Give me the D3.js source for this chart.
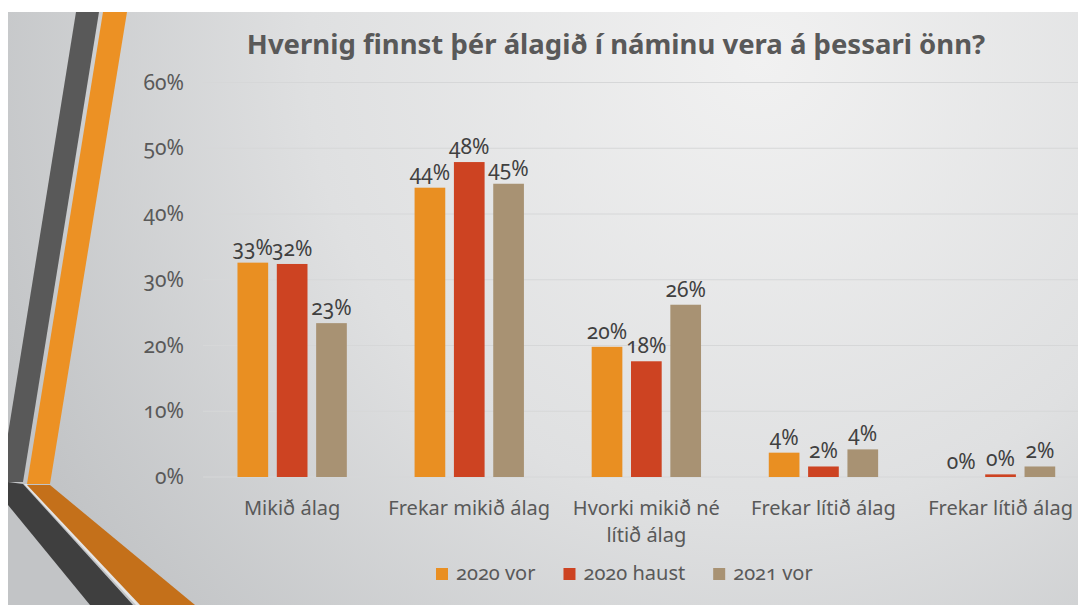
<!DOCTYPE html>
<html>
<head>
<meta charset="utf-8">
<script src="https://cdn.jsdelivr.net/npm/d3@7"></script>
<style>
  body { margin: 0; background: #fff; }
  svg text { font-family: "Noto Sans", sans-serif; }
  .num { font-variant-numeric: oldstyle-nums; }
</style>
</head>
<body>
<div id="chart"></div>
<script>
const categories = ["Mikið álag", "Frekar mikið álag", "Hvorki mikið né lítið álag", "Frekar lítið álag", "Frekar lítið álag "];
const categoryLines = [["Mikið álag"], ["Frekar mikið álag"], ["Hvorki mikið né", "lítið álag"], ["Frekar lítið álag"], ["Frekar lítið álag"]];
const series = ["2020 vor", "2020 haust", "2021 vor"];
const vor2020 = [32.6, 44.0, 19.8, 3.7, 0];
const haust2020 = [32.4, 47.9, 17.6, 1.6, 0.4];
const vor2021 = [23.4, 44.6, 26.2, 4.2, 1.6];
const yTicks = [0, 10, 20, 30, 40, 50, 60];
const colors = ["#e98f22", "#cd4322", "#a89273"];

const width = 1078, height = 605;
const values = [vor2020, haust2020, vor2021];

const svg = d3.select("#chart").append("svg").attr("width", width).attr("height", height);

// slide background
const defs = svg.append("defs");
const grad = defs.append("radialGradient").attr("id", "bg")
  .attr("gradientUnits", "userSpaceOnUse")
  .attr("cx", 760).attr("cy", 60).attr("r", 820);
grad.append("stop").attr("offset", "0%").attr("stop-color", "#f1f1f1");
grad.append("stop").attr("offset", "55%").attr("stop-color", "#dfe0e1");
grad.append("stop").attr("offset", "100%").attr("stop-color", "#c2c4c6");

svg.append("rect").attr("width", width).attr("height", height).attr("fill", "#fff");
svg.append("rect").attr("x", 8).attr("y", 12).attr("width", width - 8).attr("height", height - 12).attr("fill", "url(#bg)");

// left decoration
const deco = svg.append("g");
const poly = (pts, fill) => deco.append("polygon").attr("points", pts.map(p => p.join(",")).join(" ")).attr("fill", fill);
poly([[76, 12], [99, 12], [23, 482], [8, 482], [8, 434]], "#595959");
poly([[103, 12], [127, 12], [50, 484], [27, 484]], "#ec9124");
poly([[8, 482], [23, 484], [133, 605], [90, 605], [8, 505]], "#3f3f3f");
poly([[24, 484], [27, 484], [141, 605], [136, 605]], "#e6e6e6");
poly([[27, 485], [50, 485], [195, 605], [140, 605]], "#c4701a");

// scales
const y = d3.scaleLinear().domain([0, 60]).range([477, 82.5]);
const x0 = d3.scaleBand().domain(categories).range([203.6, 1089.1]);
const x1 = d3.scaleBand().domain(series).range([-59, 59]).paddingInner(0.22).paddingOuter(0.11);

// gridlines
svg.append("g").selectAll("line").data(yTicks).enter().append("line")
  .attr("x1", 203).attr("x2", width)
  .attr("y1", d => y(d)).attr("y2", d => y(d))
  .attr("stroke", "#d6d7d8").attr("stroke-width", 1);

// y axis
const yAxis = svg.append("g").attr("transform", "translate(184,0)")
  .call(d3.axisLeft(y).tickValues(yTicks).tickSize(0).tickPadding(0).tickFormat(d => d + "%"));
yAxis.select(".domain").remove();
yAxis.selectAll("text").attr("class", "num").attr("fill", "#595959").style("font-size", "21px");

// bars
const groups = svg.append("g").selectAll("g").data(categories).enter().append("g")
  .attr("transform", d => `translate(${x0(d) + x0.bandwidth() / 2},0)`);

groups.each(function (cat, ci) {
  const g = d3.select(this);
  const rows = series.map((s, si) => ({ s, si, v: values[si][ci] }));
  g.selectAll("rect").data(rows).enter().append("rect")
    .attr("x", d => x1(d.s))
    .attr("y", d => y(d.v))
    .attr("width", x1.bandwidth())
    .attr("height", d => y(0) - y(d.v))
    .attr("fill", d => colors[d.si]);
  g.selectAll("text").data(rows).enter().append("text")
    .attr("class", "num")
    .attr("x", d => x1(d.s) + x1.bandwidth() / 2)
    .attr("y", d => y(d.v) - 8)
    .attr("text-anchor", "middle")
    .attr("fill", "#404040")
    .style("font-size", "21px")
    .text(d => Math.round(d.v) + "%");
});

// category labels
const xl = svg.append("g");
categories.forEach((c, i) => {
  const t = xl.append("text")
    .attr("x", x0(c) + x0.bandwidth() / 2)
    .attr("y", 515)
    .attr("text-anchor", "middle")
    .attr("fill", "#595959")
    .style("font-size", "20px");
  categoryLines[i].forEach((line, li) => {
    t.append("tspan").attr("x", x0(c) + x0.bandwidth() / 2).attr("dy", li ? 27 : 0).text(line);
  });
});

// title
svg.append("text")
  .attr("x", 616).attr("y", 54)
  .attr("text-anchor", "middle")
  .attr("fill", "#595959")
  .style("font-size", "27.5px").style("font-weight", "bold")
  .text("Hvernig finnst þér álagið í náminu vera á þessari önn?");

// legend
const legend = svg.append("g").attr("transform", "translate(436,0)");
let lx = 0;
series.forEach((s, i) => {
  legend.append("rect").attr("x", lx).attr("y", 568).attr("width", 12).attr("height", 12).attr("fill", colors[i]);
  const t = legend.append("text").attr("class", "num")
    .attr("x", lx + 20).attr("y", 580)
    .attr("fill", "#595959").style("font-size", "20px").text(s);
  lx += 20 + t.node().getComputedTextLength() + 28;
});
</script>
</body>
</html>
